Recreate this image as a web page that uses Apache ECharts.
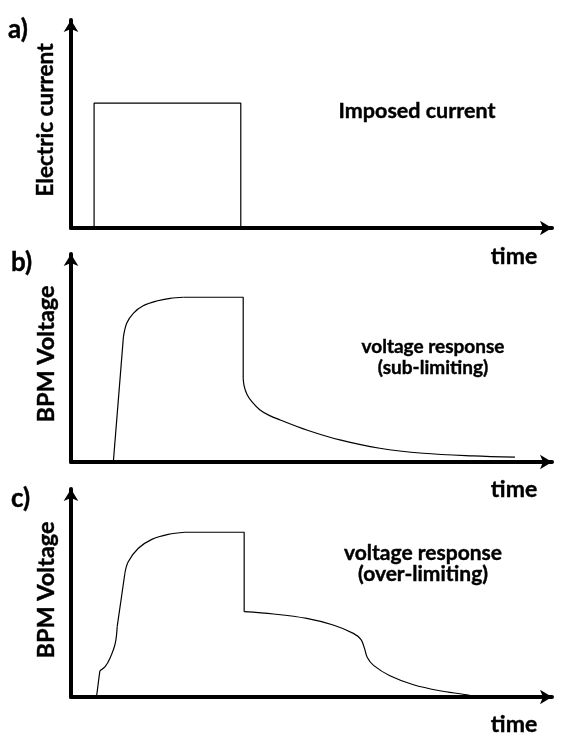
<!DOCTYPE html>
<html>
<head>
<meta charset="utf-8">
<script src="https://cdn.jsdelivr.net/npm/echarts@6/dist/echarts.min.js"></script>
<style>
html,body{margin:0;padding:0;background:#fff;}
#chart{width:561px;height:733px;}
</style>
</head>
<body>
<div id="chart"></div>
<script>
// ---- data (time units 0..100, signal units 0..100) ----
const panelLetters = ['a)', 'b)', 'c)'];
const yTitles = ['Electric current', 'BPM Voltage', 'BPM Voltage'];
const xTitle = 'time';
const noteA = ['Imposed current'];
const noteB = ['voltage response', '(sub-limiting)'];
const noteC = ['voltage response', '(over-limiting)'];

// a) imposed current pulse
const currentPulse = [[4.8,0],[4.8,60],[35.3,60],[35.3,0]];

// b) sub-limiting voltage response
const subRise = [[8.8,0],[10.9,60.2]];
const subKnee = [[10.9,60.2],[11.6,66.8],[13.0,71.6],[15.0,75.1],[17.8,77.4],[20.6,78.7],[23.4,79.2]];
const subPlateau = [[23.4,79.2],[35.8,79.2],[35.8,40.2]];
const subRelax = [[35.8,40.2],[36.0,36.5],[36.6,32.5],[37.6,29.0],[39.3,25.0],[41.2,22.4],[43.5,20.2],[49.0,15.4],[55.9,10.6],[64.2,6.6],[73.2,4.2],[83.6,2.9],[92.3,2.3]];

// c) over-limiting voltage response
const overRise = [[5.3,0],[6.0,12.6]];
const overBump = [[6.0,12.6],[7.1,14.6],[8.1,18.6],[9.2,25.8],[9.6,33.8]];
const overRamp = [[9.6,33.8],[10.5,48.2],[11.2,59.5]];
const overKnee = [[11.2,59.5],[11.9,65.0],[14.0,71.5],[16.8,75.8],[20.2,78.2],[23.7,79.2]];
const overPlateau = [[23.7,79.2],[36.0,79.2],[36.0,41.0]];
const overRelax = [[36.0,41.0],[42.1,39.9],[49.0,37.8],[54.5,34.6],[58.7,30.6],[60.3,27.6],[61.0,23.5],[61.6,19.0],[62.9,15.2],[66.3,10.2],[71.2,5.9],[76.7,3.0],[82.3,1.0],[84.0,0]];

// ---- layout ----
const FONT = 'Lato';
const gridTops = [20, 254, 489];
const gridH = 208;
const gridLeft = 71, gridW = 481;

const grids = gridTops.map(t => ({left: gridLeft, top: t, width: gridW, height: gridH}));
const axisLine = {show: true, onZero: false, symbol: ['none', 'arrow'], symbolSize: [11, 12],
  lineStyle: {color: '#000', width: 4}};
const xAxes = gridTops.map((t, i) => ({type: 'value', gridIndex: i, min: 0, max: 100,
  axisLine: axisLine, axisTick: {show: false}, axisLabel: {show: false}, splitLine: {show: false}}));
const yAxes = gridTops.map((t, i) => ({type: 'value', gridIndex: i, min: 0, max: 100,
  axisLine: axisLine, axisTick: {show: false}, axisLabel: {show: false}, splitLine: {show: false}}));

function line(data, idx, smooth) {
  return {type: 'line', xAxisIndex: idx, yAxisIndex: idx, data: data, smooth: smooth ? 0.35 : false,
    showSymbol: false, symbol: 'none', silent: true, animation: false,
    lineStyle: {color: '#000', width: 1.2}};
}
const series = [
  line(currentPulse, 0, false),
  line(subRise, 1, false), line(subKnee, 1, true), line(subPlateau, 1, false), line(subRelax, 1, true),
  line(overRise, 2, false), line(overBump, 2, true), line(overRamp, 2, false), line(overKnee, 2, true),
  line(overPlateau, 2, false), line(overRelax, 2, true)
];

function txt(x, y, s, size, rot, align) {
  return {type: 'text', x: x, y: y, rotation: rot || 0,
    style: {text: s, fill: '#000', font: 'bold ' + size + 'px ' + FONT,
      textAlign: align || 'center', textVerticalAlign: 'middle',
      stroke: '#000', lineWidth: 0.4}};
}
const letterPos = [[8, 30], [11, 263], [11, 499]];
const yTitleY = [120, 354, 590];
const yTitleSize = [22.5, 23.5, 23.5];
const timeY = [257, 490, 725];
const graphics = [];
for (let i = 0; i < 3; i++) {
  graphics.push(txt(letterPos[i][0], letterPos[i][1], panelLetters[i], 26, 0, 'left'));
  graphics.push(txt(46, yTitleY[i], yTitles[i], yTitleSize[i], Math.PI / 2));
  graphics.push(txt(514, timeY[i], xTitle, 23));
}
graphics.push(txt(417, 111, noteA[0], 21.5));
graphics.push(txt(433, 347, noteB[0], 19));
graphics.push(txt(433, 368, noteB[1], 19));
graphics.push(txt(423, 553, noteC[0], 21));
graphics.push(txt(423, 574, noteC[1], 21));

const chart = echarts.init(document.getElementById('chart'), null, {renderer: 'canvas'});
chart.setOption({
  animation: false,
  backgroundColor: '#fff',
  grid: grids,
  xAxis: xAxes,
  yAxis: yAxes,
  series: series,
  graphic: graphics
});
</script>
</body>
</html>
